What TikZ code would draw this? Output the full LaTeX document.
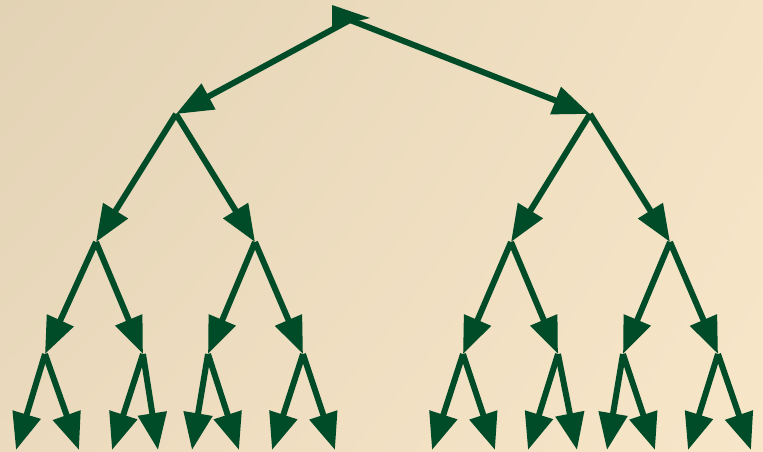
\documentclass[tikz,border=0pt]{standalone}
\usepackage{xcolor}
\usetikzlibrary{arrows.meta, shadings}

\definecolor{treegreen}{HTML}{004B28}
\definecolor{bgul}{HTML}{E3D3B5}
\definecolor{bgur}{HTML}{F3E2C4}
\definecolor{bgll}{HTML}{EBDABD}
\definecolor{bglr}{HTML}{F7E6C8}

\begin{document}
\begin{tikzpicture}[
    x=0.02cm, y=-0.02cm,
    arrow/.style={-{Triangle[length=7.4mm, width=5.6mm]}, line width=3.4pt, draw=treegreen},
]

% Background
\useasboundingbox (0,0) rectangle (763,451);
\shade[upper left=bgul, upper right=bgur, lower left=bgll, lower right=bglr] (0,0) rectangle (763,451);

% Tree nodes
\coordinate (r) at (350,20);
\coordinate (a) at (176,114);
\coordinate (b) at (590,114);
\coordinate (aa) at (96,242);
\coordinate (ab) at (255,242);
\coordinate (ba) at (511,242);
\coordinate (bb) at (670,242);
\foreach \n/\x in {aaa/45, aab/143, aba/208, abb/303, baa/463, bab/558, bba/623, bbb/718} {
    \coordinate (\n) at (\x,354);
}

% Root tip
\fill[treegreen] (332,5) -- (370,18) -- (332,27) -- cycle;

% Upper levels
\draw[arrow] (r) -- (a);
\draw[arrow] (r) -- (b);
\draw[arrow] (a) -- (aa);
\draw[arrow] (a) -- (ab);
\draw[arrow] (b) -- (ba);
\draw[arrow] (b) -- (bb);
\foreach \p/\c in {aa/aaa, aa/aab, ab/aba, ab/abb, ba/baa, ba/bab, bb/bba, bb/bbb} {
    \draw[arrow] (\p) -- (\c);
}

% Leaves
\foreach \p/\l/\r in {aaa/16/79, aab/112/158, aba/192/239, abb/272/335,
                      baa/432/495, bab/528/577, bba/607/655, bbb/688/751} {
    \coordinate (\p-l) at (\l,450);
    \coordinate (\p-r) at (\r,450);
    \draw[arrow] (\p) -- (\p-l);
    \draw[arrow] (\p) -- (\p-r);
}

\end{tikzpicture}
\end{document}
